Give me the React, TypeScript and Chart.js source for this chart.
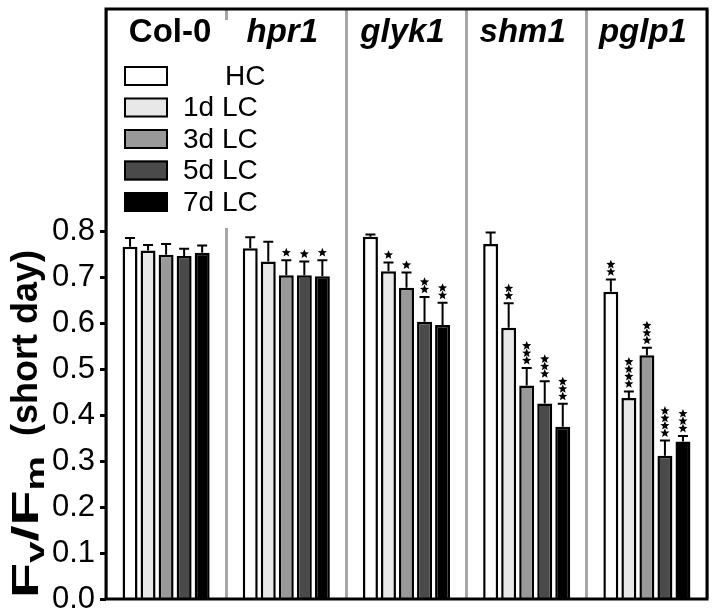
import React, { useEffect, useRef } from 'react';
import { Chart, registerables } from 'chart.js';
Chart.register(...registerables);

const categories = ['Col-0', 'hpr1', 'glyk1', 'shm1', 'pglp1'];
const seriesLabels = ['HC', '1d LC', '3d LC', '5d LC', '7d LC'];
const hcValues = [0.767, 0.764, 0.789, 0.773, 0.669];
const lc1Values = [0.759, 0.735, 0.714, 0.591, 0.438];
const lc3Values = [0.75, 0.705, 0.678, 0.465, 0.531];
const lc5Values = [0.747, 0.705, 0.604, 0.426, 0.312];
const lc7Values = [0.754, 0.703, 0.597, 0.375, 0.343];
const hcErrors = [0.019, 0.024, 0.005, 0.025, 0.027];
const lc1Errors = [0.012, 0.043, 0.019, 0.053, 0.014];
const lc3Errors = [0.023, 0.033, 0.033, 0.038, 0.016];
const lc5Errors = [0.016, 0.03, 0.054, 0.048, 0.033];
const lc7Errors = [0.016, 0.035, 0.048, 0.05, 0.012];
const hcStars = [0, 0, 0, 0, 2];
const lc1Stars = [0, 0, 1, 2, 4];
const lc3Stars = [0, 1, 1, 3, 3];
const lc5Stars = [0, 1, 2, 3, 4];
const lc7Stars = [0, 1, 2, 3, 3];
const yTickValues = [0, 0.1, 0.2, 0.3, 0.4, 0.5, 0.6, 0.7, 0.8];

const seriesValues = [hcValues, lc1Values, lc3Values, lc5Values, lc7Values];
const seriesErrors = [hcErrors, lc1Errors, lc3Errors, lc5Errors, lc7Errors];
const seriesStars = [hcStars, lc1Stars, lc3Stars, lc5Stars, lc7Stars];
const colors = ['#ffffff', '#e8e8e8', '#999999', '#4a4a4a', '#000000'];

const FONT = "'Liberation Sans', Arial, sans-serif";

function drawStar(ctx: CanvasRenderingContext2D, cx: number, cy: number, ro: number, ri: number) {
  ctx.beginPath();
  for (let i = 0; i < 10; i++) {
    const r = i % 2 === 0 ? ro : ri;
    const a = -Math.PI / 2 + (i * Math.PI) / 5;
    const px = cx + r * Math.cos(a);
    const py = cy + r * Math.sin(a);
    if (i === 0) ctx.moveTo(px, py);
    else ctx.lineTo(px, py);
  }
  ctx.closePath();
  ctx.fill();
}

const decor = {
  id: 'decor',
  afterDatasetsDraw(chart: any) {
    const ctx: CanvasRenderingContext2D = chart.ctx;
    const y = chart.scales.y;
    chart.data.datasets.forEach((_ds: any, di: number) => {
      const meta = chart.getDatasetMeta(di);
      meta.data.forEach((bar: any, j: number) => {
        const v = seriesValues[di][j];
        const e = seriesErrors[di][j];
        const x = bar.x;
        const top = y.getPixelForValue(v);
        const et = y.getPixelForValue(v + e);
        ctx.save();
        ctx.strokeStyle = '#000';
        ctx.lineWidth = 2;
        ctx.beginPath();
        ctx.moveTo(x, top);
        ctx.lineTo(x, et);
        ctx.moveTo(x - 5, et);
        ctx.lineTo(x + 5, et);
        ctx.stroke();
        ctx.fillStyle = '#000';
        const n = seriesStars[di][j];
        for (let k = 0; k < n; k++) drawStar(ctx, x, et - 7.5 - k * 7.4, 4.8, 2.1);
        ctx.restore();
      });
    });
  },
  afterDraw(chart: any) {
    const ctx: CanvasRenderingContext2D = chart.ctx;
    const { left, right, top, bottom } = chart.chartArea;
    const xs = chart.scales.x;
    ctx.save();
    // legend background
    ctx.fillStyle = '#fff';
    ctx.fillRect(left + 3, top + 11, 133, 208);
    // legend
    ctx.font = `28px ${FONT}`;
    ctx.textBaseline = 'middle';
    ctx.textAlign = 'left';
    seriesLabels.forEach((lab, i) => {
      const yy = 66 + i * 31.5;
      ctx.fillStyle = colors[i];
      ctx.fillRect(124, yy, 44, 20);
      ctx.strokeStyle = '#000';
      ctx.lineWidth = 2;
      ctx.strokeRect(125, yy + 1, 42, 18);
      ctx.fillStyle = '#000';
      ctx.fillText(lab, i === 0 ? 225 : 183, yy + 11);
    });
    // header labels
    ctx.textAlign = 'center';
    ctx.textBaseline = 'alphabetic';
    categories.forEach((c, i) => {
      ctx.font = i === 0 ? `bold 33px ${FONT}` : `italic bold 33px ${FONT}`;
      ctx.fillText(c, xs.getPixelForValue(i) + (i === 0 ? 4 : -4), 42);
    });
    // frame
    ctx.strokeStyle = '#000';
    ctx.lineWidth = 3;
    ctx.strokeRect(left, top, right - left, bottom - top);
    ctx.restore();

    // y title
    ctx.save();
    ctx.fillStyle = '#000';
    ctx.textAlign = 'left';
    ctx.textBaseline = 'alphabetic';
    ctx.translate(38, 598);
    ctx.rotate(-Math.PI / 2);
    const big = `bold 37px ${FONT}`;
    const small = `bold 25px ${FONT}`;
    const parts = [
      { t: 'F', sub: false },
      { t: 'v', sub: true },
      { t: '/F', sub: false },
      { t: 'm', sub: true },
    ];
    const sx = 1.55;
    let cx = 0;
    parts.forEach((p) => {
      ctx.font = p.sub ? small : big;
      ctx.save();
      ctx.translate(cx, p.sub ? 6 : 0);
      ctx.scale(sx, 1);
      ctx.fillText(p.t, 0, 0);
      ctx.restore();
      cx += ctx.measureText(p.t).width * sx;
    });
    cx += 20;
    ctx.font = `bold 36px ${FONT}`;
    ctx.fillText('(short day)', cx, -1);
    ctx.restore();
  },
};

export default function App() {
  const ref = useRef<HTMLCanvasElement>(null);
  useEffect(() => {
    const canvas = ref.current!;
    const chart = new Chart(canvas, {
      type: 'bar',
      data: {
        labels: categories,
        datasets: seriesLabels.map((label, i) => ({
          label,
          data: seriesValues[i],
          backgroundColor: colors[i],
          borderColor: '#000',
          borderWidth: 2.5,
          categoryPercentage: 0.75,
          barPercentage: 0.83,
        })),
      },
      options: {
        animation: false,
        responsive: false,
        devicePixelRatio: 1,
        layout: { padding: { top: 9, right: 9, bottom: 16, left: 0 } },
        plugins: { legend: { display: false }, tooltip: { enabled: false } },
        scales: {
          x: {
            ticks: { display: false },
            border: { display: false },
            grid: { offset: true, color: '#a6a6a6', lineWidth: 3, drawTicks: false },
            afterFit: (s: any) => {
              s.height = 0;
              s.paddingLeft = 0;
              s.paddingRight = 0;
            },
          },
          y: {
            min: 0,
            max: 1.285,
            border: { display: false },
            grid: { drawOnChartArea: false, drawTicks: true, tickLength: 6, tickWidth: 3, tickColor: '#000' },
            ticks: {
              stepSize: 0.1,
              padding: 5,
              color: '#000',
              font: { family: FONT, size: 31 },
              callback: (v: any) => Number(v).toFixed(1),
            },
            afterBuildTicks: (s: any) => {
              s.ticks = yTickValues.map((v) => ({ value: v }));
            },
            afterFit: (s: any) => {
              s.width = 106;
              s.paddingTop = 0;
              s.paddingBottom = 0;
            },
          },
        },
      },
      plugins: [decor],
    });
    return () => chart.destroy();
  }, []);
  return (
    <div style={{ position: 'absolute', left: 0, top: 0, width: 716, height: 615, background: '#fff' }}>
      <canvas ref={ref} width={716} height={615} />
    </div>
  );
}
